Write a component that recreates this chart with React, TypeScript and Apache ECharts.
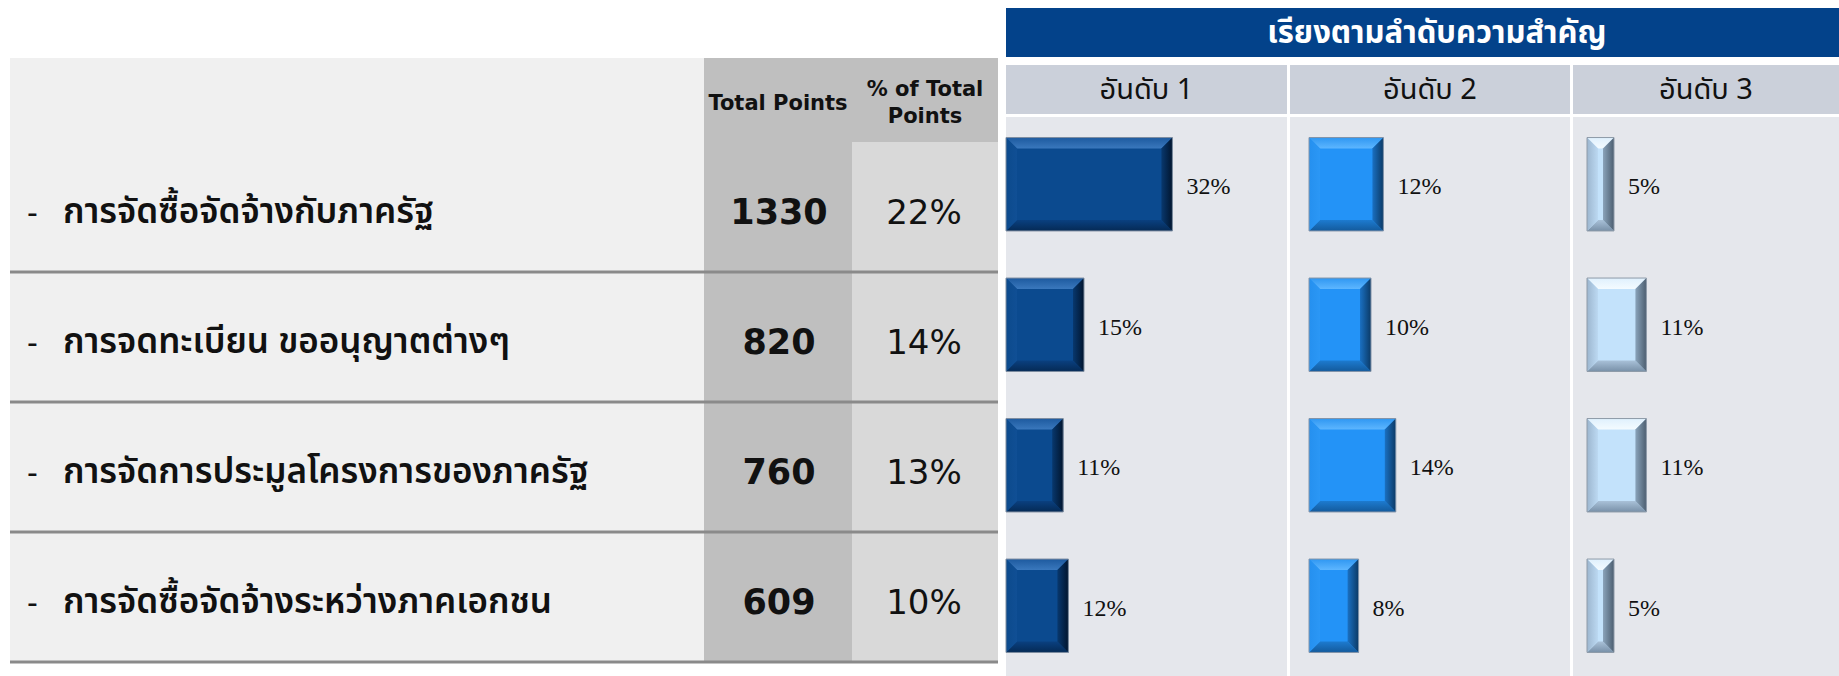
import React, { useEffect, useRef } from "react";
import * as echarts from "echarts";

// ---------- data ----------
const categories = [
  "การจัดซื้อจัดจ้างกับภาครัฐ",
  "การจดทะเบียน ขออนุญาตต่างๆ",
  "การจัดการประมูลโครงการของภาครัฐ",
  "การจัดซื้อจัดจ้างระหว่างภาคเอกชน",
];
const totalPoints = [1330, 820, 760, 609];
const pctOfTotal = [22, 14, 13, 10];
const rank1 = [32, 15, 11, 12];
const rank2 = [12, 10, 14, 8];
const rank3 = [5, 11, 11, 5];
const rankLabels = ["อันดับ 1", "อันดับ 2", "อันดับ 3"];
const titleText = "เรียงตามลำดับความสำคัญ";
const headerTotal = "Total Points";
const headerPct = "% of Total\nPoints";

const THAI = "'Noto Sans Thai', 'Noto Sans Thai UI', Tahoma, 'Noto Sans', sans-serif";
const SANS = "'DejaVu Sans', Verdana, sans-serif";
const SERIF = "'Liberation Serif', 'Times New Roman', serif";

type Palette = {
  face: string;
  top: [string, string];
  bottom: [string, string];
  left: [string, string];
  right: [string, string];
  border: string;
};

const palettes: Palette[] = [
  {
    face: "#0b4a8f",
    top: ["#1d5a9f", "#3a78bd"],
    bottom: ["#0a4080", "#052a55"],
    left: ["#0c4a8c", "#104f95"],
    right: ["#08386e", "#01152e"],
    border: "#7f8ea0",
  },
  {
    face: "#2393f7",
    top: ["#2f97f2", "#5db6ff"],
    bottom: ["#1d7bd0", "#135a9c"],
    left: ["#2590ef", "#2b97f5"],
    right: ["#1a70c2", "#0b3a66"],
    border: "#8494a8",
  },
  {
    face: "#c3e2fb",
    top: ["#dff0fd", "#f4fbff"],
    bottom: ["#a9c1d8", "#7890a8"],
    left: ["#9cb6cf", "#bcd9f2"],
    right: ["#8aa3ba", "#4c5e70"],
    border: "#8e9aa8",
  },
];

function grad(x0: number, y0: number, x1: number, y1: number, c: [string, string]) {
  return new echarts.graphic.LinearGradient(x0, y0, x1, y1, [
    { offset: 0, color: c[0] },
    { offset: 1, color: c[1] },
  ]);
}

function makeRenderItem(p: Palette) {
  return (params: any, api: any) => {
    const val = api.value(0);
    const idx = api.value(1);
    const start = api.coord([0, idx]);
    const end = api.coord([val, idx]);
    const band = api.size([0, 1])[1];
    const h = band * 0.665;
    const x0 = start[0];
    const x1 = end[0];
    const y0 = start[1] - h / 2;
    const y1 = start[1] + h / 2;
    const w = x1 - x0;
    const bx = Math.min(11, w / 2);
    const by = 11;
    const children: any[] = [
      { type: "rect", shape: { x: x0, y: y0, width: w, height: h }, style: { fill: p.face } },
      {
        type: "polygon",
        shape: { points: [[x0, y0], [x1, y0], [x1 - bx, y0 + by], [x0 + bx, y0 + by]] },
        style: { fill: grad(0, 0, 0, 1, p.top) },
      },
      {
        type: "polygon",
        shape: { points: [[x0, y1], [x1, y1], [x1 - bx, y1 - by], [x0 + bx, y1 - by]] },
        style: { fill: grad(0, 0, 0, 1, p.bottom) },
      },
      {
        type: "polygon",
        shape: { points: [[x0, y0], [x0 + bx, y0 + by], [x0 + bx, y1 - by], [x0, y1]] },
        style: { fill: grad(0, 0, 1, 0, p.left) },
      },
      {
        type: "polygon",
        shape: { points: [[x1, y0], [x1 - bx, y0 + by], [x1 - bx, y1 - by], [x1, y1]] },
        style: { fill: grad(0, 0, 1, 0, p.right) },
      },
      {
        type: "rect",
        shape: { x: x0, y: y0, width: w, height: h },
        style: { fill: "none", stroke: p.border, lineWidth: 1 },
      },
      {
        type: "text",
        x: x1 + 14,
        y: start[1] + 2,
        style: {
          text: val + "%",
          fill: "#111111",
          fontSize: 24,
          fontFamily: SERIF,
          align: "left",
          verticalAlign: "middle",
        },
      },
    ];
    return { type: "group", children };
  };
}

export default function App() {
  const ref = useRef<HTMLDivElement>(null);
  useEffect(() => {
    if (!ref.current) return;
    const chart = echarts.init(ref.current, undefined, { renderer: "svg" });

    const rowTop = 142;
    const rowH = 130;
    const graphics: any[] = [];
    // left table backgrounds
    graphics.push({ type: "rect", z: 0, shape: { x: 10, y: 58, width: 988, height: 604 }, style: { fill: "#f0f0f0" } });
    graphics.push({ type: "rect", z: 0, shape: { x: 704, y: 58, width: 148, height: 604 }, style: { fill: "#bfbfbf" } });
    graphics.push({ type: "rect", z: 0, shape: { x: 852, y: 58, width: 146, height: 84 }, style: { fill: "#bfbfbf" } });
    graphics.push({ type: "rect", z: 0, shape: { x: 852, y: 142, width: 146, height: 520 }, style: { fill: "#d9d9d9" } });
    // header texts
    graphics.push({
      type: "text", z: 1, x: 778, y: 103,
      style: { text: headerTotal, fontSize: 21, fontWeight: "bold", fontFamily: SANS, fill: "#111", align: "center", verticalAlign: "middle" },
    });
    graphics.push({
      type: "text", z: 1, x: 925, y: 102,
      style: { text: headerPct, fontSize: 21, fontWeight: "bold", fontFamily: SANS, fill: "#111", align: "center", verticalAlign: "middle", lineHeight: 27 },
    });
    categories.forEach((c, i) => {
      const cy = rowTop + rowH * i + rowH / 2 + 5;
      graphics.push({
        type: "text", z: 1, x: 27, y: cy,
        style: { text: "-", fontSize: 30, fontFamily: SANS, fill: "#111", align: "left", verticalAlign: "middle" },
      });
      graphics.push({
        type: "text", z: 1, x: 63, y: cy,
        style: { text: c, fontSize: 35, fontWeight: 600, fontFamily: THAI, fill: "#111", align: "left", verticalAlign: "middle" },
      });
      graphics.push({
        type: "text", z: 1, x: 779, y: cy,
        style: { text: String(totalPoints[i]), fontSize: 35, fontWeight: "bold", fontFamily: SANS, fill: "#111", align: "center", verticalAlign: "middle" },
      });
      graphics.push({
        type: "text", z: 1, x: 924, y: cy,
        style: { text: pctOfTotal[i] + "%", fontSize: 34, fontFamily: SANS, fill: "#111", align: "center", verticalAlign: "middle" },
      });
      graphics.push({
        type: "line", z: 1,
        shape: { x1: 10, y1: rowTop + rowH * (i + 1), x2: 998, y2: rowTop + rowH * (i + 1) },
        style: { stroke: "#8a8a8a", lineWidth: 3 },
      });
    });

    // right side
    graphics.push({ type: "rect", z: 0, shape: { x: 1006, y: 8, width: 833, height: 49 }, style: { fill: "#03428a" } });
    graphics.push({
      type: "text", z: 1, x: 1437, y: 33,
      style: { text: titleText, fontSize: 31, fontWeight: "bold", fontFamily: THAI, fill: "#ffffff", align: "center", verticalAlign: "middle" },
    });
    const cols = [
      { x: 1006, w: 281 },
      { x: 1290, w: 280 },
      { x: 1573, w: 266 },
    ];
    cols.forEach((c, i) => {
      graphics.push({ type: "rect", z: 0, shape: { x: c.x, y: 65, width: c.w, height: 49 }, style: { fill: "#cbd0da" } });
      graphics.push({ type: "rect", z: 0, shape: { x: c.x, y: 117, width: c.w, height: 559 }, style: { fill: "#e5e7ec" } });
      graphics.push({
        type: "text", z: 1, x: c.x + c.w / 2, y: 90,
        style: { text: rankLabels[i], fontSize: 29, fontFamily: THAI, fill: "#111", align: "center", verticalAlign: "middle" },
      });
    });

    const gridTop = 114;
    const gridH = 565;
    const gridDefs = [
      { left: 1006, width: 260, max: 50 },
      { left: 1309, width: 248, max: 40 },
      { left: 1587, width: 216, max: 40 },
    ];
    const rankData = [rank1, rank2, rank3];

    chart.setOption({
      animation: false,
      grid: gridDefs.map((g) => ({ left: g.left, top: gridTop, width: g.width, height: gridH, containLabel: false })),
      xAxis: gridDefs.map((g, i) => ({ type: "value", gridIndex: i, min: 0, max: g.max, show: false })),
      yAxis: gridDefs.map((g, i) => ({ type: "category", gridIndex: i, data: categories, inverse: true, show: false })),
      graphic: { elements: graphics },
      series: rankData.map((d, i) => ({
        type: "custom",
        name: rankLabels[i],
        xAxisIndex: i,
        yAxisIndex: i,
        z: 10,
        encode: { x: 0, y: 1 },
        data: d.map((v, j) => [v, j]),
        renderItem: makeRenderItem(palettes[i]),
      })),
    });
    return () => chart.dispose();
  }, []);
  return (
    <div
      ref={ref}
      style={{ position: "fixed", left: 0, top: 0, width: 1839, height: 676, background: "#ffffff" }}
    />
  );
}
